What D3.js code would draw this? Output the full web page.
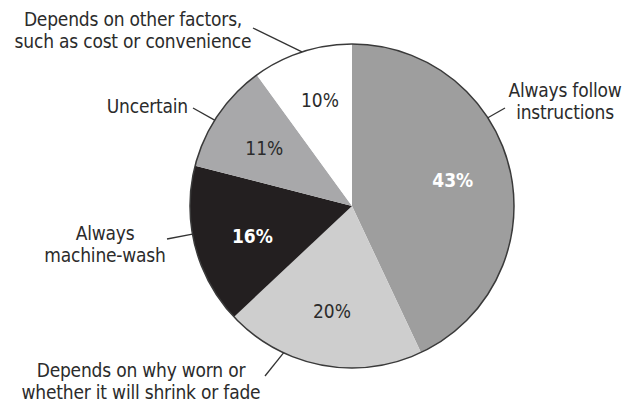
<!DOCTYPE html>
<html>
<head>
<meta charset="utf-8">
<script src="https://cdn.jsdelivr.net/npm/d3@7"></script>
<style>
  html, body { margin: 0; padding: 0; background: #fff; }
  svg { display: block; }
  text { font-family: "DejaVu Sans Condensed", "Liberation Sans Narrow", sans-serif; font-stretch: condensed; fill: #2b2b2b; }
</style>
</head>
<body>
<svg id="chart" width="626" height="409"></svg>
<script>
// Laundry habits: share of respondents (%), clockwise from 12 o'clock
const categories = [
  "Always follow instructions",
  "Depends on why worn or whether it will shrink or fade",
  "Always machine-wash",
  "Uncertain",
  "Depends on other factors, such as cost or convenience"
];
const shares = [43, 20, 16, 11, 10];
const sliceColors = ["#9e9e9e", "#cecece", "#231f20", "#a8a8aa", "#ffffff"];
const valueInk = ["#ffffff", "#2b2b2b", "#ffffff", "#2b2b2b", "#2b2b2b"];
const valueWeight = ["bold", "normal", "bold", "normal", "normal"];

// Category label lines as printed
const labelLines = [
  ["Always follow", "instructions"],
  ["Depends on why worn or", "whether it will shrink or fade"],
  ["Always", "machine-wash"],
  ["Uncertain"],
  ["Depends on other factors,", "such as cost or convenience"]
];

const W = 626, H = 409;
const cx = 352, cy = 206, R = 162;

const svg = d3.select("#chart");
const g = svg.append("g").attr("transform", `translate(${cx},${cy})`);

const pie = d3.pie().sort(null).value(d => d);
const arcs = pie(shares);
const arc = d3.arc().innerRadius(0).outerRadius(R);

g.selectAll("path.slice")
  .data(arcs)
  .join("path")
  .attr("class", "slice")
  .attr("d", arc)
  .attr("fill", (d, i) => sliceColors[i]);

// outer rim
g.append("circle")
  .attr("r", R)
  .attr("fill", "none")
  .attr("stroke", "#3a3a3a")
  .attr("stroke-width", 1.5);

// Value labels placed in polar terms (degrees clockwise from top, radius px)
const valuePlacement = [
  { a: 75.6, r: 104 },
  { a: 190.8, r: 107 },
  { a: 253.3, r: 104 },
  { a: 303.4, r: 105 },
  { a: 343.2, r: 111 }
];
const polar = (deg, r) => {
  const t = deg * Math.PI / 180;
  return [r * Math.sin(t), -r * Math.cos(t)];
};

g.selectAll("text.value")
  .data(arcs)
  .join("text")
  .attr("class", "value")
  .attr("text-anchor", "middle")
  .attr("transform", (d, i) => {
    const [x, y] = polar(valuePlacement[i].a, valuePlacement[i].r);
    return `translate(${x},${y + 7})`;
  })
  .style("font-size", "19px")
  .style("font-weight", (d, i) => valueWeight[i])
  .style("fill", (d, i) => valueInk[i])
  .text(d => d.value + "%");

// Callouts: leader touches the rim at angle `a`, runs out to (lx, ly);
// text block is centred at tx with the first baseline at ty.
const callouts = [
  { a: 57,  lx: 505, ly: 108, tx: 565, ty: 97,  anchor: "middle" },
  { a: 205, lx: 265, ly: 376, tx: 141, ty: 377, anchor: "middle" },
  { a: 260, lx: 167, ly: 239, tx: 105, ty: 240, anchor: "middle" },
  { a: 302, lx: 193, ly: 108, tx: 188, ty: 113, anchor: "end" },
  { a: 342, lx: 253, ly: 28,  tx: 133, ty: 26,  anchor: "middle" }
];

const lines = svg.append("g");
callouts.forEach((c, i) => {
  const [px, py] = polar(c.a, R);
  lines.append("line")
    .attr("x1", cx + px).attr("y1", cy + py)
    .attr("x2", c.lx).attr("y2", c.ly)
    .attr("stroke", "#333")
    .attr("stroke-width", 1.3);

  const t = svg.append("text")
    .attr("x", c.tx)
    .attr("y", c.ty)
    .attr("text-anchor", c.anchor)
    .style("font-size", "19px")
    .style("letter-spacing", "-0.2px");
  labelLines[i].forEach((ln, k) => {
    t.append("tspan")
      .attr("x", c.tx)
      .attr("dy", k === 0 ? 0 : 22)
      .text(ln);
  });
});
</script>
</body>
</html>
